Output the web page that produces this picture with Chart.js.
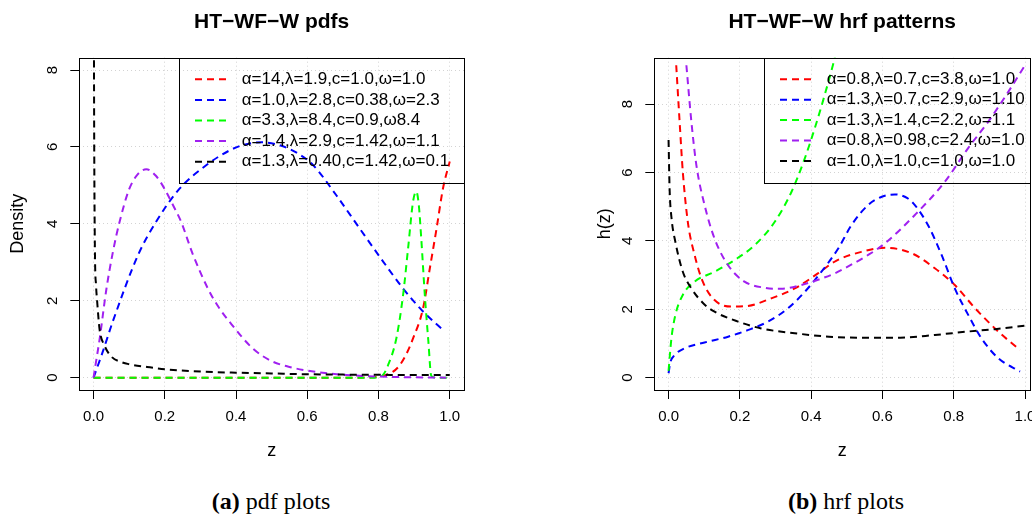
<!DOCTYPE html>
<html>
<head>
<meta charset="utf-8">
<script src="https://cdn.jsdelivr.net/npm/chart.js@4.4.1/dist/chart.umd.min.js"></script>
<style>
  html, body { margin: 0; padding: 0; background: #fff; width: 1032px; height: 527px; overflow: hidden; position: relative; }
  .panel { position: absolute; top: 0; height: 470px; }
  #panelA { left: 0; width: 520px; }
  #panelB { left: 520px; width: 540px; }
  .cap { position: absolute; top: 488px; width: 300px; text-align: center; line-height: 26px;
         font-family: "Liberation Serif", "Times New Roman", serif; font-size: 24px; color: #000; }
</style>
</head>
<body>
<div class="panel" id="panelA"><canvas id="pdfChart" width="520" height="470"></canvas></div>
<div class="panel" id="panelB"><canvas id="hrfChart" width="540" height="470"></canvas></div>
<div class="cap" style="left:121px"><b>(a)</b> pdf plots</div>
<div class="cap" style="left:696px"><b>(b)</b> hrf plots</div>
<script>
// ---- tick positions shared by both panels ----
const xTicks = [0, 0.2, 0.4, 0.6, 0.8, 1.0];
const yTicks = [0, 2, 4, 6, 8];

// ---- legend texts and line colours ----
const pdfLabels = [
  'α=14,λ=1.9,c=1.0,ω=1.0',
  'α=1.0,λ=2.8,c=0.38,ω=2.3',
  'α=3.3,λ=8.4,c=0.9,ω8.4',
  'α=1.4,λ=2.9,c=1.42,ω=1.1',
  'α=1.3,λ=0.40,c=1.42,ω=0.1'
];
const hrfLabels = [
  'α=0.8,λ=0.7,c=3.8,ω=1.0',
  'α=1.3,λ=0.7,c=2.9,ω=1.10',
  'α=1.3,λ=1.4,c=2.2,ω=1.1',
  'α=0.8,λ=0.98,c=2.4,ω=1.0',
  'α=1.0,λ=1.0,c=1.0,ω=1.0'
];
const lineColors = ['#FF0000', '#0000FF', '#00FF00', '#A020F0', '#000000'];

// ---- pdf curves: z positions and densities ----
const pdfZ1 = [0, 0.7, 0.78, 0.813, 0.84, 0.86, 0.88, 0.897, 0.925, 0.944, 0.963, 0.981, 1.0];
const pdfD1 = [0, 0, 0.01, 0.05, 0.15, 0.33, 0.65, 1.02, 1.8, 2.84, 3.88, 4.92, 5.62];

const pdfZ2 = [0, 0.025, 0.054, 0.125, 0.176, 0.242, 0.317, 0.38, 0.42, 0.47, 0.52, 0.57, 0.616, 0.681, 0.747, 0.813, 0.869, 0.925, 0.98];
const pdfD2 = [0, 0.65, 1.46, 3.19, 4.06, 4.92, 5.53, 5.9, 6.05, 6.12, 6.05, 5.85, 5.53, 4.75, 3.88, 3.02, 2.32, 1.72, 1.25];

const pdfZ3 = [0, 0.78, 0.81, 0.827, 0.85, 0.869, 0.883, 0.897, 0.906, 0.913, 0.92, 0.93, 0.94, 0.948, 0.96, 1.0];
const pdfD3 = [0, 0, 0.05, 0.33, 1.02, 2.15, 3.36, 4.58, 4.84, 4.5, 3.62, 2.15, 0.94, 0.05, 0, 0];

const pdfZ4 = [0, 0.005, 0.017, 0.036, 0.055, 0.073, 0.1, 0.125, 0.148, 0.175, 0.2, 0.225, 0.246, 0.279, 0.322, 0.35, 0.382, 0.447, 0.5, 0.55, 0.59, 0.65, 0.71, 0.8, 0.9, 0.99];
const pdfD4 = [0, 0.3, 1.0, 2.3, 3.3, 4.05, 4.9, 5.3, 5.42, 5.25, 4.9, 4.45, 4.05, 3.2, 2.3, 1.85, 1.45, 0.76, 0.43, 0.28, 0.2, 0.12, 0.07, 0.03, 0.01, 0];

const pdfZ5 = [0.0008, 0.002, 0.004, 0.007, 0.01, 0.017, 0.03, 0.05, 0.08, 0.1, 0.15, 0.2, 0.3, 0.4, 0.5, 0.6, 0.7, 0.8, 0.9, 1.0];
const pdfD5 = [9.5, 5.8, 3.2, 2.4, 2.0, 1.25, 0.85, 0.55, 0.4, 0.35, 0.28, 0.22, 0.16, 0.13, 0.11, 0.09, 0.08, 0.075, 0.07, 0.07];

// ---- hazard rate curves: z positions and h(z) ----
const hrfZ1 = [0.0215, 0.031, 0.04, 0.054, 0.073, 0.096, 0.129, 0.176, 0.223, 0.288, 0.354, 0.419, 0.47, 0.541, 0.607, 0.682, 0.747, 0.803, 0.86, 0.925, 0.986];
const hrfH1 = [9.14, 7.49, 6.02, 4.56, 3.59, 2.81, 2.27, 2.08, 2.1, 2.32, 2.61, 3.05, 3.42, 3.68, 3.8, 3.64, 3.2, 2.71, 2.03, 1.35, 0.81];

const hrfZ2 = [0, 0.005, 0.017, 0.045, 0.101, 0.167, 0.222, 0.279, 0.335, 0.382, 0.429, 0.476, 0.513, 0.56, 0.6, 0.635, 0.67, 0.691, 0.728, 0.766, 0.803, 0.841, 0.878, 0.925, 0.986];
const hrfH2 = [0.13, 0.45, 0.66, 0.86, 1.03, 1.2, 1.39, 1.64, 2.03, 2.51, 3.1, 3.78, 4.46, 5.05, 5.3, 5.36, 5.25, 5.05, 4.46, 3.59, 2.61, 1.83, 1.15, 0.57, 0.18];

const hrfZ3 = [0, 0.004, 0.008, 0.019, 0.04, 0.073, 0.129, 0.185, 0.242, 0.298, 0.345, 0.382, 0.41, 0.438, 0.466, 0.472];
const hrfH3 = [0.2, 0.7, 1.15, 1.83, 2.42, 2.81, 3.1, 3.44, 3.88, 4.56, 5.44, 6.41, 7.29, 8.27, 9.34, 9.6];

const hrfZ4 = [0.05, 0.064, 0.078, 0.101, 0.129, 0.167, 0.213, 0.27, 0.316, 0.372, 0.429, 0.466, 0.494, 0.56, 0.607, 0.691, 0.775, 0.84, 0.897, 0.953, 1.0];
const hrfH4 = [9.14, 7.49, 6.22, 5.05, 4.07, 3.29, 2.81, 2.63, 2.6, 2.71, 2.9, 3.05, 3.2, 3.59, 3.93, 4.76, 5.73, 6.71, 7.49, 8.36, 9.14];

const hrfZ5 = [0, 0.003, 0.008, 0.019, 0.04, 0.064, 0.1, 0.129, 0.195, 0.26, 0.354, 0.45, 0.55, 0.65, 0.747, 0.84, 0.916, 1.0];
const hrfH5 = [6.95, 5.5, 4.7, 3.98, 3.1, 2.61, 2.15, 1.93, 1.64, 1.44, 1.3, 1.2, 1.17, 1.17, 1.25, 1.35, 1.42, 1.52];

const FONT = '"Liberation Sans", Arial, Helvetica, sans-serif';
const DASH = [7, 5];

// Plot frame plus an unfilled legend box anchored to the top-right corner.
function framePlugin(leg) {
  return {
    id: 'frameAndLegend',
    afterDatasetsDraw(chart) {
      const { ctx, chartArea: a } = chart;
      ctx.save();
      ctx.setLineDash([]);
      ctx.strokeStyle = '#000';
      ctx.lineWidth = 1;
      ctx.strokeRect(Math.round(a.left) + 0.5, Math.round(a.top) + 0.5,
                     Math.round(a.right - a.left), Math.round(a.bottom - a.top));
      const bx = a.right - leg.width, by = a.top;
      ctx.strokeRect(Math.round(bx) + 0.5, Math.round(by) + 0.5, Math.round(leg.width), Math.round(leg.height));
      ctx.font = leg.fontSize + 'px ' + FONT;
      ctx.textBaseline = 'middle';
      ctx.textAlign = 'left';
      leg.labels.forEach((txt, i) => {
        const y = by + leg.firstRow + i * leg.rowGap;
        ctx.strokeStyle = lineColors[i];
        ctx.lineWidth = 2;
        ctx.setLineDash(DASH);
        ctx.beginPath();
        ctx.moveTo(bx + leg.lineStart, y);
        ctx.lineTo(bx + leg.lineEnd, y);
        ctx.stroke();
        ctx.setLineDash([]);
        ctx.fillStyle = '#000';
        ctx.fillText(txt, bx + leg.textStart, y);
      });
      ctx.restore();
    }
  };
}

function makePanel(canvasId, cfg) {
  const datasets = cfg.series.map((s, i) => ({
    label: cfg.labels[i],
    data: s[0].map((z, k) => ({ x: z, y: s[1][k] })),
    borderColor: lineColors[i],
    borderWidth: 2,
    borderDash: DASH,
    pointRadius: 0,
    fill: false,
    cubicInterpolationMode: 'monotone',
    clip: 0,
    order: 10 - i
  }));
  return new Chart(document.getElementById(canvasId), {
    type: 'line',
    data: { datasets },
    options: {
      responsive: false,
      animation: false,
      devicePixelRatio: 1,
      events: [],
      layout: { padding: { left: 0, top: 0, right: cfg.padRight, bottom: 0 } },
      plugins: {
        legend: { display: false },
        tooltip: { enabled: false },
        title: {
          display: true, text: cfg.title, fullSize: false, color: '#000',
          font: { family: FONT, size: 21, weight: 'bold' },
          padding: { top: 9.9, bottom: 22.6 }
        }
      },
      scales: {
        x: {
          type: 'linear', min: cfg.xMin, max: cfg.xMax,
          afterBuildTicks: sc => { sc.ticks = xTicks.map(v => ({ value: v })); },
          afterFit: sc => { sc.height = 80; },
          ticks: { callback: v => v.toFixed(1), color: '#000', font: { family: FONT, size: 15 },
                   padding: 9, maxRotation: 0, minRotation: 0, autoSkip: false },
          grid: { color: '#D3D3D3', lineWidth: 1, tickLength: 9, tickColor: '#000', tickWidth: 1, drawTicks: true },
          border: { display: false, dash: [1, 3] },
          title: { display: true, text: 'z', color: '#000', font: { family: FONT, size: 18 },
                   padding: { top: 0, bottom: 8.2 } }
        },
        y: {
          type: 'linear', min: cfg.yMin, max: cfg.yMax,
          afterBuildTicks: sc => { sc.ticks = yTicks.map(v => ({ value: v })); },
          afterFit: sc => { sc.width = cfg.yWidth; },
          ticks: { callback: v => String(v), color: '#000', font: { family: FONT, size: 15 },
                   padding: 12.8, minRotation: 90, maxRotation: 90, crossAlign: 'center', autoSkip: false },
          grid: { color: '#D3D3D3', lineWidth: 1, tickLength: 9, tickColor: '#000', tickWidth: 1, drawTicks: true },
          border: { display: false, dash: [1, 3] },
          title: { display: true, text: cfg.yTitle, color: '#000', font: { family: FONT, size: 18 },
                   padding: { top: cfg.yTitlePad, bottom: 0 } }
        }
      }
    },
    plugins: [framePlugin(cfg.legend)]
  });
}

makePanel('pdfChart', {
  title: 'HT\u2212WF\u2212W pdfs',
  yTitle: 'Density',
  labels: pdfLabels,
  series: [[pdfZ1, pdfD1], [pdfZ2, pdfD2], [pdfZ3, pdfD3], [pdfZ4, pdfD4], [pdfZ5, pdfD5]],
  xMin: -0.04, xMax: 1.04, yMin: -0.32, yMax: 8.32,
  yWidth: 79.3, yTitlePad: 7.5, padRight: 56,
  legend: { labels: pdfLabels, width: 284.7, height: 125.3, firstRow: 21.6, rowGap: 20.6,
            lineStart: 15.7, lineEnd: 48, textStart: 62.4, fontSize: 17 }
});

makePanel('hrfChart', {
  title: 'HT\u2212WF\u2212W hrf patterns',
  yTitle: 'h(z)',
  labels: hrfLabels,
  series: [[hrfZ1, hrfH1], [hrfZ2, hrfH2], [hrfZ3, hrfH3], [hrfZ4, hrfH4], [hrfZ5, hrfH5]],
  xMin: -0.04, xMax: 1.014, yMin: -0.36, yMax: 9.36,
  yWidth: 134.3, yTitlePad: 74.2, padRight: 30,
  legend: { labels: hrfLabels, width: 265.7, height: 124.6, firstRow: 21.6, rowGap: 20.4,
            lineStart: 15.7, lineEnd: 48.4, textStart: 62.4, fontSize: 17 }
});
</script>
</body>
</html>
